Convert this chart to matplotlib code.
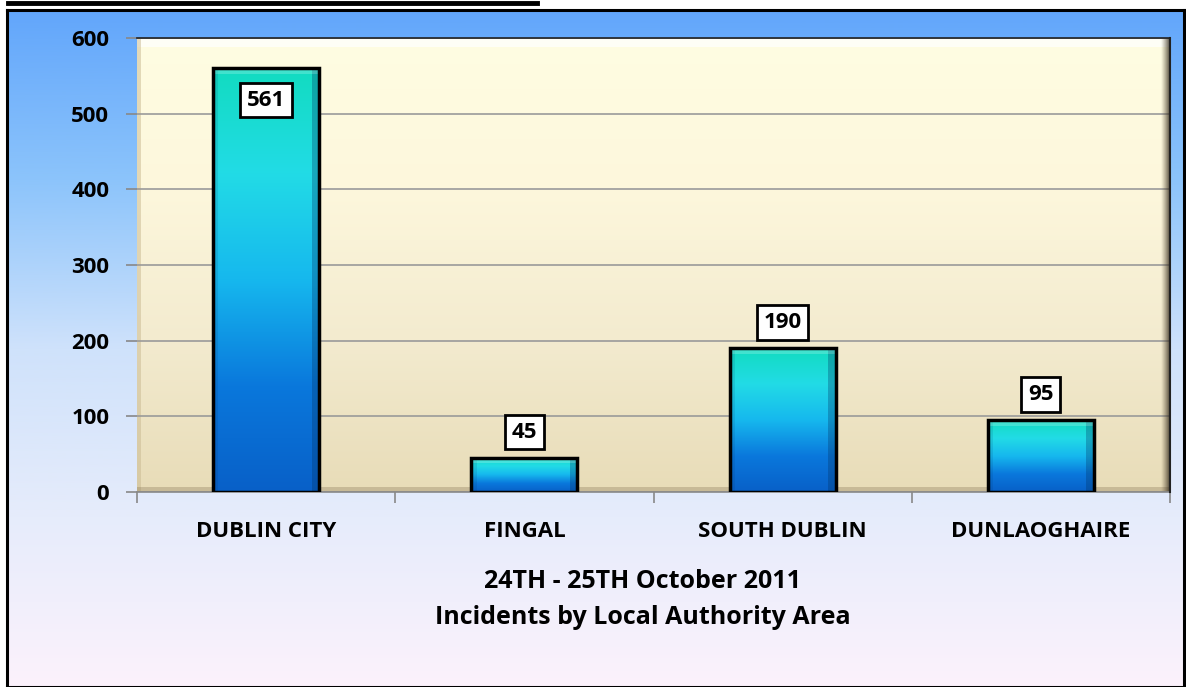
import numpy as np
import matplotlib
matplotlib.use("Agg")
import matplotlib.pyplot as plt
from matplotlib.colors import LinearSegmentedColormap
from matplotlib.lines import Line2D
from matplotlib.patches import Rectangle

categories = ["DUBLIN CITY", "FINGAL", "SOUTH DUBLIN", "DUNLAOGHAIRE"]
values = [561, 45, 190, 95]
yticks = [0, 100, 200, 300, 400, 500, 600]
title_lines = ["24TH - 25TH October 2011", "Incidents by Local Authority Area"]

plt.rcParams['font.family'] = ['Open Sans', 'DejaVu Sans']
plt.rcParams['font.weight'] = 'bold'

W, H = 1186, 687
fig = plt.figure(figsize=(W / 100, H / 100), dpi=100)
fig.patch.set_facecolor('white')

# top underline fragment
fig.add_artist(Line2D([8 / W, 537 / W], [1 - 3 / H, 1 - 3 / H], color='black', lw=3.5))

# outer chart frame with gradient
fx0, fy0, fx1, fy1 = 7, 10, 1184, 687
bg = fig.add_axes([fx0 / W, 1 - fy1 / H, (fx1 - fx0) / W, (fy1 - fy0) / H])
bg_cmap = LinearSegmentedColormap.from_list('bg', ['#62a6fb', '#8cc4fb', '#cfe2fb', '#e6ecfb', '#fcf2fc'])
bg.imshow(np.linspace(0, 1, 256).reshape(-1, 1), aspect='auto', cmap=bg_cmap,
          extent=[0, 1, 0, 1], origin='upper')
bg.set_xlim(0, 1); bg.set_ylim(0, 1)
bg.set_xticks([]); bg.set_yticks([])
for s in bg.spines.values():
    s.set_linewidth(2.2)
    s.set_color('black')

# plot area
px0, py0, px1, py1 = 137, 38, 1170, 492
ax = fig.add_axes([px0 / W, 1 - py1 / H, (px1 - px0) / W, (py1 - py0) / H])
n = len(categories)
ax.set_xlim(-0.5, n - 0.5)
ax.set_ylim(yticks[0], yticks[-1])

pa_cmap = LinearSegmentedColormap.from_list('pa', ['#fffde2', '#fdf7dc', '#f3ebcf', '#e8dcb8'])
ax.imshow(np.linspace(0, 1, 256).reshape(-1, 1), aspect='auto', cmap=pa_cmap,
          extent=[-0.5, n - 0.5, yticks[0], yticks[-1]], origin='upper', zorder=0)
# bevel highlight on top and shadow on right
ax.add_patch(Rectangle((-0.5, 588), n, 12, facecolor='white', alpha=0.7, lw=0, zorder=0.5))
sh_cmap = LinearSegmentedColormap.from_list('sh', [(0.4, 0.35, 0.25, 0.0), (0.15, 0.12, 0.08, 0.9)])
ax.imshow(np.linspace(0, 1, 64).reshape(1, -1), aspect='auto', cmap=sh_cmap,
          extent=[n - 0.535, n - 0.5, 0, 600], zorder=0.6)
ax.add_patch(Rectangle((-0.5, 0), 0.015, 600, facecolor='#c8b890', alpha=0.5, lw=0, zorder=0.5))
ax.add_patch(Rectangle((-0.5, 0), n, 6, facecolor='#8a7a5a', alpha=0.35, lw=0, zorder=0.5))

ax.yaxis.grid(True, color='#9a9a9a', lw=1.2, zorder=1)
ax.set_axisbelow(True)

bar_cmap = LinearSegmentedColormap.from_list('bar', ['#12dcc0', '#22dbe6', '#16b8ee', '#0a78dc', '#0860c8'])
x = np.arange(n)
bars = ax.bar(x, values, width=0.41, facecolor='none', edgecolor='black', lw=2.5, zorder=3)
for b in bars:
    bx, by = b.get_x(), b.get_y()
    bw, bh = b.get_width(), b.get_height()
    im = ax.imshow(np.linspace(0, 1, 256).reshape(-1, 1), aspect='auto', cmap=bar_cmap,
                   extent=[bx, bx + bw, by, by + bh], origin='upper', zorder=2)
    im.set_clip_path(b)
    ax.add_patch(Rectangle((bx + bw * 0.93, by), bw * 0.07, bh, facecolor='#003060', alpha=0.3, lw=0, zorder=2.5))
    ax.add_patch(Rectangle((bx, by), bw * 0.05, bh, facecolor='#003060', alpha=0.12, lw=0, zorder=2.5))
    ax.add_patch(Rectangle((bx, by + bh - min(8, bh * 0.15)), bw, min(8, bh * 0.15), facecolor='white', alpha=0.2, lw=0, zorder=2.5))

for xi, v in zip(x, values):
    yl = v - 43 if v > 500 else v + 34
    ax.text(xi, yl, str(v), ha='center', va='center', fontsize=16, fontweight='bold',
            bbox=dict(boxstyle='square,pad=0.3', fc='white', ec='black', lw=2), zorder=5)

ax.set_xticks(x)
ax.set_xticklabels(categories, fontsize=16, fontweight='bold')
ax.set_xticks(np.arange(-0.5, n, 1), minor=True)
ax.tick_params(axis='x', which='major', length=0, pad=21)
ax.tick_params(axis='x', which='minor', length=8, color='#888888', width=1.2)
ax.set_yticks(yticks)
ax.set_yticklabels([str(t) for t in yticks], fontsize=16, fontweight='bold')
ax.tick_params(axis='y', length=8, color='#888888', width=1.2, pad=12)

for s in ['left', 'top', 'right']:
    ax.spines[s].set_visible(False)
ax.spines['bottom'].set_color('#888888')
ax.spines['bottom'].set_linewidth(1.2)
ax.add_artist(Line2D([-0.5, n - 0.5], [600, 600], color='#222222', lw=1.2, zorder=4, clip_on=False))
ax.add_artist(Line2D([n - 0.5, n - 0.5], [0, 600], color='#222222', lw=1.5, zorder=4, clip_on=False))

fig.text(643 / W, 1 - 582 / H, title_lines[0], ha='center', va='center', fontsize=18, fontweight='bold')
fig.text(643 / W, 1 - 617 / H, title_lines[1], ha='center', va='center', fontsize=18, fontweight='bold')

fig.savefig('out.png', dpi=100)
